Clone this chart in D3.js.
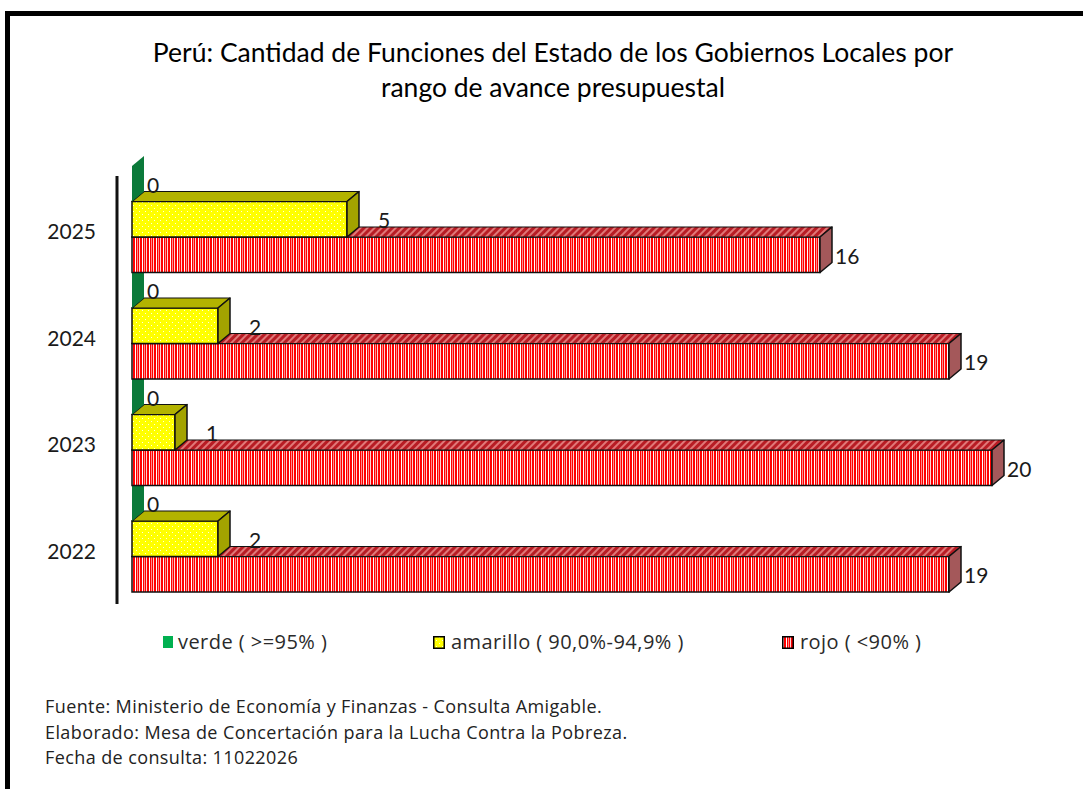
<!DOCTYPE html>
<html><head><meta charset="utf-8">
<script src="https://cdn.jsdelivr.net/npm/d3@7"></script>
<style>html,body{margin:0;padding:0;background:#fff;}svg{display:block;}</style>
</head><body>
<script>
// ---- data ----
const categories = ["2025", "2024", "2023", "2022"];
const seriesNames = ["verde ( >=95% )", "amarillo ( 90,0%-94,9% )", "rojo ( <90% )"];
const verde = [0, 0, 0, 0];
const amarillo = [5, 2, 1, 2];
const rojo = [16, 19, 20, 19];
const titleLines = ["Perú: Cantidad de Funciones del Estado de los Gobiernos Locales por", "rango de avance presupuestal"];
const footerLines = ["Fuente: Ministerio de Economía y Finanzas - Consulta Amigable.",
  "Elaborado: Mesa de Concertación para la Lucha Contra la Pobreza.",
  "Fecha de consulta: 11022026"];

const W = 1083, H = 789, FONT = "Lato, 'Open Sans', sans-serif", FONT2 = "'Open Sans', Lato, sans-serif";
const DX = 12, DY = -10;
const svg = d3.select("body").append("svg").attr("width", W).attr("height", H);
const defs = svg.append("defs");

// patterns
const pr = defs.append("pattern").attr("id", "redFront").attr("patternUnits", "userSpaceOnUse").attr("width", 7).attr("height", 10);
pr.append("rect").attr("width", 7).attr("height", 10).attr("fill", "#ff0000");
pr.append("rect").attr("x", 2).attr("width", 1).attr("height", 10).attr("fill", "#ffffff");
pr.append("rect").attr("x", 4).attr("width", 1).attr("height", 10).attr("fill", "#ff8c8c");
pr.append("rect").attr("x", 6).attr("width", 1).attr("height", 10).attr("fill", "#ffd0d0");
const prt = defs.append("pattern").attr("id", "redTop").attr("patternUnits", "userSpaceOnUse").attr("width", 5).attr("height", 5).attr("patternTransform", "rotate(45)");
prt.append("rect").attr("width", 5).attr("height", 5).attr("fill", "#b81c24");
prt.append("rect").attr("width", 2).attr("height", 5).attr("fill", "#e07878");
const py = defs.append("pattern").attr("id", "yelFront").attr("patternUnits", "userSpaceOnUse").attr("width", 6).attr("height", 6);
py.append("rect").attr("width", 6).attr("height", 6).attr("fill", "#ffff00");
py.append("rect").attr("x", 1).attr("y", 1).attr("width", 1).attr("height", 1).attr("fill", "#ffffe0");
py.append("rect").attr("x", 4).attr("y", 4).attr("width", 1).attr("height", 1).attr("fill", "#ffffe0");

// frame
svg.append("rect").attr("x", 7.5).attr("y", 13.5).attr("width", W + 20).attr("height", H + 20)
  .attr("fill", "#fff").attr("stroke", "#000").attr("stroke-width", 5);

// title
svg.append("g").selectAll("text").data(titleLines).join("text")
  .attr("x", 553).attr("y", (d, i) => 62 + i * 35)
  .attr("text-anchor", "middle").attr("font-family", FONT).attr("font-size", 26.5).attr("fill", "#000")
  .text(d => d);

// scales
const y = d3.scaleBand().domain(categories).range([166, 592]).padding(0);
const ys = d3.scaleBand().domain(seriesNames).range([0, y.bandwidth()]).padding(0);
const x = d3.scaleLinear().domain([0, 20]).range([132, 992]);

// category axis line
svg.append("line").attr("x1", 117).attr("x2", 117).attr("y1", y.range()[0] + 10).attr("y2", y.range()[1] + 12)
  .attr("stroke", "#111").attr("stroke-width", 3);

const seriesVals = [verde, amarillo, rojo];
const styles = [
  { front: "#0b7a3a", top: "#0b7a3a", side: "#0b7a3a", stroke: "none", labelOff: 3 },
  { front: "url(#yelFront)", top: "#b3b300", side: "#a3a300", stroke: "#111", labelOff: 19 },
  { front: "url(#redFront)", top: "url(#redTop)", side: "#a4585a", stroke: "#111", labelOff: 3 }
];

const plot = svg.append("g");
const cats = categories.map((c, i) => ({ c, i })).reverse();
cats.forEach(({ c, i }) => {
  [2, 1, 0].forEach(s => {
    const v = seriesVals[s][i];
    const st = styles[s];
    const yT = y(c) + ys(seriesNames[s]), yB = yT + ys.bandwidth();
    const x0 = x(0), x1 = x(v);
    const g = plot.append("g");
    if (v > 0) {
      g.append("rect").attr("x", x0).attr("y", yT).attr("width", x1 - x0).attr("height", yB - yT)
        .attr("fill", st.front).attr("stroke", st.stroke).attr("stroke-width", 1.5);
      g.append("polygon").attr("points", [[x0, yT], [x0 + DX, yT + DY], [x1 + DX, yT + DY], [x1, yT]].join(" "))
        .attr("fill", st.top).attr("stroke", st.stroke).attr("stroke-width", 1.2).attr("stroke-linejoin", "round");
    }
    g.append("polygon").attr("points", [[x1, yT], [x1 + DX, yT + DY], [x1 + DX, yB + DY], [x1, yB]].join(" "))
      .attr("fill", st.side).attr("stroke", st.stroke).attr("stroke-width", 1.5).attr("stroke-linejoin", "round");
  });
});

// data labels
const lab = svg.append("g").attr("font-family", FONT).attr("font-size", 21).attr("fill", "#1a1a1a");
categories.forEach((c, i) => {
  seriesNames.forEach((sn, s) => {
    const v = seriesVals[s][i];
    const yc = y(c) + ys(sn) + ys.bandwidth() / 2;
    lab.append("text").attr("x", x(v) + DX + styles[s].labelOff).attr("y", yc + 9).text(v);
  });
});

// category labels
svg.append("g").selectAll("text").data(categories).join("text")
  .attr("x", 96).attr("y", d => y(d) + y.bandwidth() / 2 + 20)
  .attr("text-anchor", "end").attr("font-family", FONT).attr("font-size", 21).attr("fill", "#1a1a1a")
  .text(d => d);

// legend
const legX = [163, 433, 782];
const leg = svg.append("g");
seriesNames.forEach((sn, s) => {
  const lx = legX[s];
  if (s === 0) {
    leg.append("rect").attr("x", lx).attr("y", 636).attr("width", 10).attr("height", 12).attr("fill", "#00b050");
  } else {
    leg.append("rect").attr("x", lx + 0.75).attr("y", 636.75).attr("width", 10.5).attr("height", 11.5)
      .attr("fill", styles[s].front).attr("stroke", "#000").attr("stroke-width", 1.5);
  }
  leg.append("text").attr("x", lx + (s === 0 ? 15 : 18)).attr("y", 649)
    .attr("font-family", FONT2).attr("font-size", 20).attr("letter-spacing", 0.45).attr("fill", "#2a2a2a").text(sn);
});

// footer
svg.append("g").selectAll("text").data(footerLines).join("text")
  .attr("x", 45).attr("y", (d, i) => 713 + i * 25.5)
  .attr("font-family", FONT2).attr("font-size", 18).attr("letter-spacing", 0.4).attr("fill", "#222").text(d => d);
</script>
</body></html>
